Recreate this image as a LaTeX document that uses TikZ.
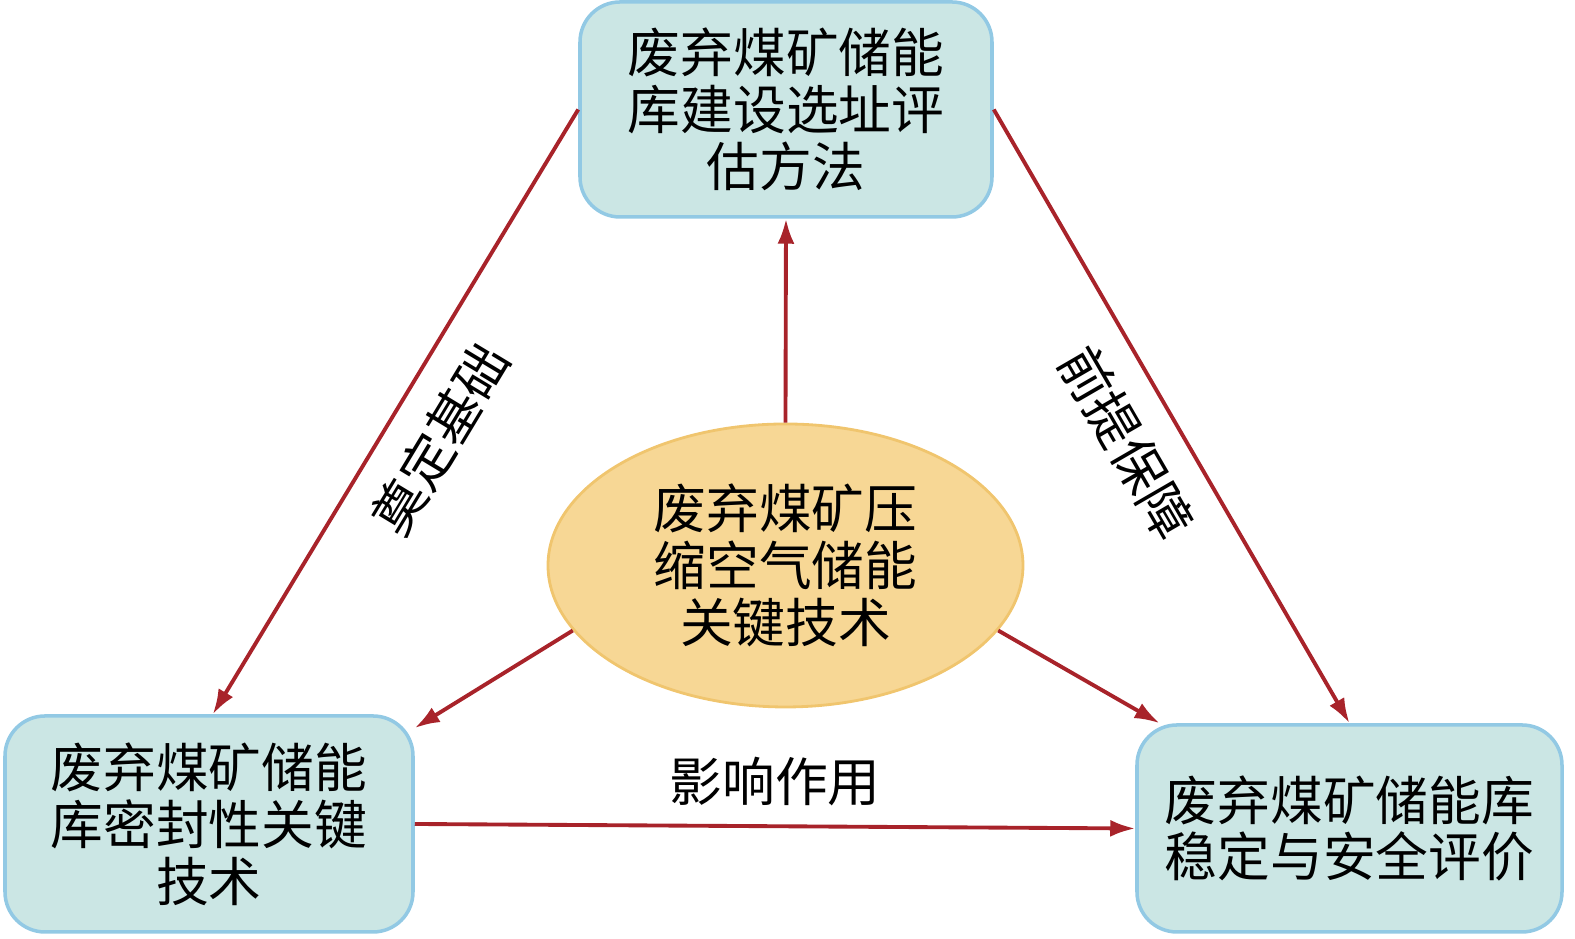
\documentclass[tikz,border=0pt]{standalone}
\usepackage{fontspec}
\setmainfont{Noto Sans CJK SC}
\usepackage{tikz}
\usetikzlibrary{shapes, arrows.meta, positioning, calc}

\definecolor{boxfill}{HTML}{CBE6E4}
\definecolor{boxline}{HTML}{92C9E4}
\definecolor{corefill}{HTML}{F7D795}
\definecolor{coreline}{HTML}{F0C56E}
\definecolor{linkred}{HTML}{A8232A}

\begin{document}
\begin{tikzpicture}[
        font=\fontsize{15pt}{16.2pt}\selectfont,
        block/.style={rectangle, draw=boxline, line width=1pt, fill=boxfill, rounded corners=0.4cm, align=center},
        core/.style={ellipse, draw=coreline, line width=0.8pt, fill=corefill, minimum width=4.75cm, minimum height=2.83cm, inner sep=0pt, align=center},
        link/.style={draw=linkred, line width=1.1pt, -{Latex[length=0.25cm, width=0.17cm]}},
        tag/.style={midway, sloped, below=4pt}
    ]
        \useasboundingbox (0,0) rectangle (15.75,9.39);

        % Four blocks
        \node[block, minimum width=4.12cm, minimum height=2.15cm] (site) at (7.86,8.295) {废弃煤矿储能\\库建设选址评\\估方法};
        \node[core] (caes) at (7.855,3.735) {废弃煤矿压\\缩空气储能\\关键技术};
        \node[block, minimum width=4.08cm, minimum height=2.16cm] (seal) at (2.09,1.15) {废弃煤矿储能\\库密封性关键\\技术};
        \node[block, minimum width=4.25cm, minimum height=2.07cm] (safe) at (13.495,1.105) {废弃煤矿储能库\\稳定与安全评价};

        % Connections
        \draw[link] (caes.north) -- (site.south);
        \draw[link] (caes.197) -- (seal.25);
        \draw[link] (caes.343) -- (safe.151);
        \draw[link] (site.west) -- node[tag] {奠定基础} (seal.88);
        \draw[link] (site.east) -- node[tag] {前提保障} (safe.north);
        \draw[link] (seal.east) -- node[midway, above=2pt] {影响作用} (safe.west);
    \end{tikzpicture}
\end{document}
